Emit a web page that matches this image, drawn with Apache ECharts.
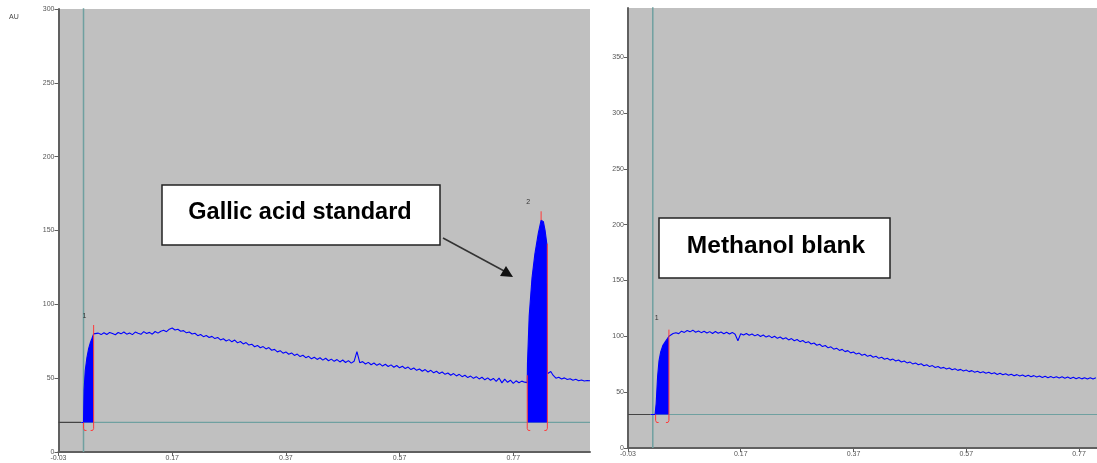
<!DOCTYPE html>
<html><head><meta charset="utf-8">
<script src="https://cdn.jsdelivr.net/npm/echarts@6/dist/echarts.min.js"></script>
<style>html,body{margin:0;padding:0;background:#fff}#c{width:1097px;height:463px}</style>
</head><body><div id="c"></div>
<script>
// ---------- tick labels ----------
const xTicks = [-0.03, 0.17, 0.37, 0.57, 0.77];
const leftYTicks = [0, 50, 100, 150, 200, 250, 300];
const rightYTicks = [0, 50, 100, 150, 200, 250, 300, 350];

// ---------- LEFT: Gallic acid standard ----------
const leftBaseline = 20;
const leftPreRun = [[-0.03, 20], [0.010, 20]];
const leftPeak1 = [[0.010, 20], [0.014, 20], [0.0150, 42], [0.017, 55], [0.020, 64], [0.023, 70], [0.026, 74], [0.029, 77], [0.0318, 80]];
const leftSignalStart = 0.035, sampleStep = 0.005;
const leftSignal = [79,80.5,79.5,80.8,79.6,81,80.2,79.4,80.9,80,81.3,79.8,80.6,79.5,81.2,80.4,79.7,81.5,80.3,81,79.8,81.6,80.5,81.8,82.4,81.5,83.2,84,82.6,83.1,81.8,82.2,80.7,81.3,79.9,80.4,78.8,79.6,78.1,78.9,77.5,78.3,76.8,77.6,75.9,76.7,75.2,76.1,74.6,75.8,73.9,74.8,73.2,74.1,72.4,73,71.3,72.2,70.6,71.4,69.8,70.7,68.9,69.5,67.8,68.6,66.9,67.8,66.2,67.1,65.4,66.3,64.6,65.5,63.9,64.8,63.1,64.2,62.7,63.8,62.2,63.5,61.8,62.9,61.4,62.6,61,62.3,60.6,61.9,60.2,61.4,68,60.5,61.2,59.6,60.7,59.1,60.3,58.7,59.8,58.2,59.4,57.9,59,57.4,58.6,57,58.1,56.5,57.5,55.8,56.9,55.3,56.2,54.7,55.8,54.2,55.3,53.6,54.7,53.1,54.2,52.6,53.5,52,53.1,51.5,52.6,51,52,50.4,51.4,49.9,51,49.5,50.6,48.9,50.2,48.6,49.8,47.9,50.1,46.8,49.3,47.2,48.6,46.5,48.2,46.9,48,47.3];
const leftPeak2 = [[0.7946, 47], [0.7950, 60], [0.798, 92], [0.803, 118], [0.808, 134], [0.814, 148], [0.819, 157], [0.823, 156], [0.826, 150], [0.829, 141], [0.8300, 53]];
const leftPost = [[0.833, 52], [0.836, 54.5], [0.840, 52], [0.845, 50], [0.850, 50.6], [0.855, 49.4], [0.860, 50.2], [0.865, 49.1], [0.870, 49.6], [0.875, 48.6], [0.880, 49.2], [0.885, 48.3], [0.890, 48.8], [0.895, 48.1], [0.900, 48.4], [0.905, 48.2]];
const leftPeakNames = ['1', '2'];
const leftPeakStart = [0.014, 0.7946];
const leftPeakEnd = [0.0318, 0.830];
const leftPeakStartTop = [20, 52];
const leftPeakEndTop = [86, 141];
const leftPeakApexT = [NaN, 0.819];
const leftPeakApexTop = [NaN, 163];
const leftPeakLabelV = [92, 169];
const leftInjectT = 0.014;

// ---------- RIGHT: Methanol blank ----------
const rightBaseline = 30;
const rightPreRun = [[-0.03, 30], [0.010, 30]];
const rightPeak1 = [[0.010, 30], [0.018, 30], [0.020, 40], [0.0225, 64], [0.025, 78], [0.028, 86], [0.032, 92], [0.036, 95], [0.040, 98], [0.0426, 100]];
const rightSignalStart = 0.045;
const rightSignal = [101,102.5,103.2,102.4,104.6,103.5,105.2,104,105.5,103.6,104.8,103.3,104.5,102.9,104.2,102.6,104.3,102.8,103.9,102.3,103.7,102.1,103.5,101.8,96,102.4,101.2,102.6,100.9,102.1,100.4,101.7,99.9,101.2,99.3,100.6,98.8,100.1,98.2,99.4,97.6,98.7,96.8,98,96,97.1,95.2,96.3,94.3,95.2,93.1,94,92,92.9,90.8,91.8,89.7,90.6,88.5,89.4,87.4,88.3,86.3,87.2,85.2,86,84.1,85,83.1,84,82.1,83,81.2,82.1,80.3,81.2,79.5,80.4,78.7,79.6,77.9,78.8,77,77.9,76.2,77.1,75.3,76.2,74.5,75.4,73.7,74.6,72.9,73.8,72.1,73,71.4,72.2,70.7,71.6,70.1,71,69.5,70.4,69,69.8,68.4,69.3,67.9,68.8,67.4,68.3,66.9,67.8,66.4,67.3,65.9,66.9,65.5,66.5,65.1,66.1,64.7,65.7,64.4,65.4,64,65.1,63.8,64.8,63.5,64.5,63.2,64.3,63,64.1,62.8,63.9,62.6,63.7,62.4,63.5,62.2,63.3,62,63.1,61.9,63,61.8,62.9,61.7,62.8];
const rightPeakNames = ['1'];
const rightPeakStart = [0.019];
const rightPeakEnd = [0.0426];
const rightPeakStartTop = [30];
const rightPeakEndTop = [106];
const rightPeakApexT = [NaN];
const rightPeakApexTop = [NaN];
const rightPeakLabelV = [116];
const rightInjectT = 0.014;

// ---------- build ----------
function sampled(start, vals) { return vals.map((v, i) => [+(start + i * sampleStep).toFixed(4), v]); }
const leftTrace = [].concat(leftPeak1, sampled(leftSignalStart, leftSignal), leftPeak2, leftPost);
const rightTrace = [].concat(rightPeak1, sampled(rightSignalStart, rightSignal));

const BLUE = '#0000ff', GREEN = '#6fa0a0', RED = '#ff3a3a', AXIS = '#606060', LBL = '#555';

function xAxisCfg(idx, max) {
  return {
    type: 'value', gridIndex: idx, min: -0.03, max: max,
    axisLine: { onZero: false, lineStyle: { color: AXIS, width: 2 } },
    axisTick: { customValues: xTicks, length: 4, lineStyle: { color: AXIS } },
    axisLabel: { customValues: xTicks, formatter: v => v.toFixed(2), fontSize: 7, color: LBL, margin: 3, fontFamily: 'Liberation Sans' },
    splitLine: { show: false }
  };
}
function yAxisCfg(idx, max, ticks) {
  return {
    type: 'value', gridIndex: idx, min: 0, max: max,
    axisLine: { show: true, onZero: false, lineStyle: { color: AXIS, width: 2 } },
    axisTick: { show: true, customValues: ticks, length: 4, lineStyle: { color: AXIS } },
    axisLabel: { customValues: ticks, fontSize: 7, color: LBL, margin: 4, fontFamily: 'Liberation Sans' },
    splitLine: { show: false }
  };
}
function bracketData(starts, ends, base, sTop, eTop, apT, apTop, labV, names) {
  return starts.map((s, i) => ({ value: [s, ends[i], base, sTop[i], eTop[i], apT[i], apTop[i], labV[i]], name: names[i] }));
}
function makeRender(names) {
  return function (params, api) {
    const s = api.value(0), e = api.value(1), base = api.value(2);
    const pS = api.coord([s, base]), pSt = api.coord([s, api.value(3)]);
    const pE = api.coord([e, base]), pEt = api.coord([e, api.value(4)]);
    const d = 8, h = 3;
    const children = [
      { type: 'polyline', shape: { points: [[pSt[0], pSt[1]], [pS[0], pS[1] + d - 2], [pS[0] + 1, pS[1] + d], [pS[0] + h, pS[1] + d]] }, style: { stroke: RED, fill: null, lineWidth: 1 } },
      { type: 'polyline', shape: { points: [[pEt[0], pEt[1]], [pE[0], pE[1] + d - 2], [pE[0] - 1, pE[1] + d], [pE[0] - h, pE[1] + d]] }, style: { stroke: RED, fill: null, lineWidth: 1 } }
    ];
    const at = api.value(5);
    if (!isNaN(at)) {
      const a1 = api.coord([at, api.value(6)]);
      children.push({ type: 'line', shape: { x1: a1[0], y1: a1[1], x2: a1[0], y2: a1[1] + 9 }, style: { stroke: RED, lineWidth: 1 } });
    }
    const lp = api.coord([s, api.value(7)]);
    children.push({ type: 'text', x: lp[0] + 1, y: lp[1], style: { text: names[params.dataIndex], fill: '#333', font: '7px Liberation Sans', align: 'center', verticalAlign: 'middle' } });
    return { type: 'group', children };
  };
}

function seriesFor(idx, pre, trace, peaks, baseline, injectT, xmax, brData, names) {
  const out = [];
  out.push({ type: 'line', xAxisIndex: idx, yAxisIndex: idx, data: pre, symbol: 'none', lineStyle: { color: '#444', width: 1.2 }, silent: true, z: 3 });
  out.push({ type: 'line', xAxisIndex: idx, yAxisIndex: idx, data: [[injectT, baseline], [xmax, baseline]], symbol: 'none', lineStyle: { color: GREEN, width: 1.2 }, silent: true, z: 2 });
  out.push({ type: 'line', xAxisIndex: idx, yAxisIndex: idx, data: [[injectT, 0], [injectT, 1000]], symbol: 'none', lineStyle: { color: GREEN, width: 1.5 }, silent: true, z: 2, clip: true });
  peaks.forEach(p => out.push({ type: 'line', xAxisIndex: idx, yAxisIndex: idx, data: p, symbol: 'none', lineStyle: { width: 0 }, areaStyle: { color: BLUE, opacity: 1, origin: baseline }, silent: true, z: 4 }));
  out.push({ type: 'line', xAxisIndex: idx, yAxisIndex: idx, data: trace, symbol: 'none', lineStyle: { color: BLUE, width: 1.1 }, silent: true, z: 5 });
  out.push({ type: 'custom', xAxisIndex: idx, yAxisIndex: idx, data: brData, renderItem: makeRender(names), silent: true, z: 6, clip: false });
  return out;
}

const chart = echarts.init(document.getElementById('c'), null, { renderer: 'canvas' });
const leftMax = 0.905, rightMax = 0.802;
chart.setOption({
  animation: false,
  backgroundColor: '#ffffff',
  grid: [
    { left: 58.5, right: 507, top: 9, bottom: 11, show: true, backgroundColor: '#c0c0c0', borderWidth: 0 },
    { left: 628, right: 0, top: 8, bottom: 15, show: true, backgroundColor: '#c0c0c0', borderWidth: 0 }
  ],
  xAxis: [xAxisCfg(0, leftMax), xAxisCfg(1, rightMax)],
  yAxis: [yAxisCfg(0, 300, leftYTicks), yAxisCfg(1, 394, rightYTicks)],
  series: [].concat(
    seriesFor(0, leftPreRun, leftTrace, [leftPeak1.slice(1), leftPeak2], leftBaseline, leftInjectT, leftMax,
      bracketData(leftPeakStart, leftPeakEnd, leftBaseline, leftPeakStartTop, leftPeakEndTop, leftPeakApexT, leftPeakApexTop, leftPeakLabelV, leftPeakNames), leftPeakNames),
    seriesFor(1, rightPreRun, rightTrace, [rightPeak1.slice(1)], rightBaseline, rightInjectT, rightMax,
      bracketData(rightPeakStart, rightPeakEnd, rightBaseline, rightPeakStartTop, rightPeakEndTop, rightPeakApexT, rightPeakApexTop, rightPeakLabelV, rightPeakNames), rightPeakNames)
  ),
  graphic: [
    { type: 'text', left: 9, top: 14, style: { text: 'AU', fill: '#444', font: '7px Liberation Sans' } },
    { type: 'rect', shape: { x: 162, y: 185, width: 278, height: 60 }, style: { fill: '#fff', stroke: '#222', lineWidth: 1.5 }, z: 100 },
    { type: 'text', x: 300, y: 213, style: { text: 'Gallic acid standard', fill: '#000', font: 'bold 23.5px Liberation Sans', align: 'center', verticalAlign: 'middle' }, z: 101 },
    { type: 'line', shape: { x1: 443, y1: 238, x2: 506, y2: 272 }, style: { stroke: '#333', lineWidth: 1.5 }, z: 100 },
    { type: 'polygon', shape: { points: [[513, 277], [500, 276], [506, 266]] }, style: { fill: '#111' }, z: 100 },
    { type: 'rect', shape: { x: 659, y: 218, width: 231, height: 60 }, style: { fill: '#fff', stroke: '#222', lineWidth: 1.5 }, z: 100 },
    { type: 'text', x: 776, y: 246, style: { text: 'Methanol blank', fill: '#000', font: 'bold 24.5px Liberation Sans', align: 'center', verticalAlign: 'middle' }, z: 101 }
  ]
});
</script></body></html>
